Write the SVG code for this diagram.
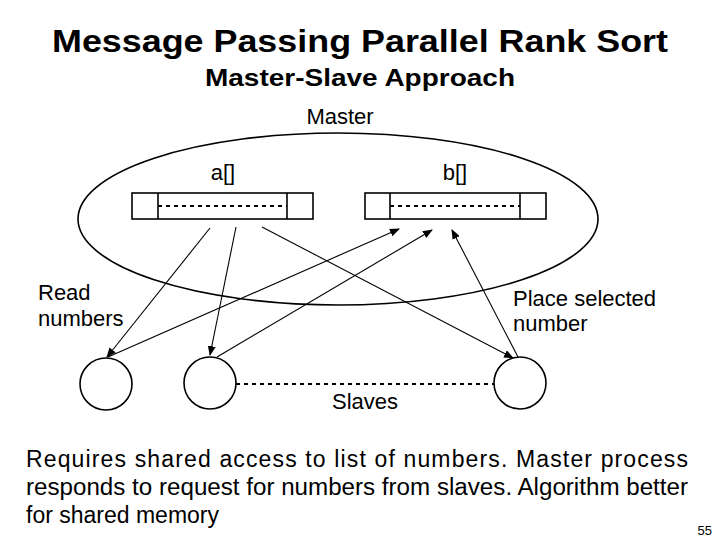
<svg xmlns="http://www.w3.org/2000/svg" width="720" height="540" viewBox="0 0 720 540">
<defs><marker id="ah" markerWidth="10" markerHeight="8" refX="9" refY="4" orient="auto" markerUnits="userSpaceOnUse"><path d="M0,0 L10,4 L0,8 z" fill="#000"/></marker></defs>
<style>
text{font-family:"Liberation Sans",Arial,sans-serif;fill:#000}
.l{font-size:22px}
.s{fill:none;stroke:#000;stroke-width:1.6}
.d{stroke:#000;stroke-width:2;stroke-dasharray:4,4}
.c{stroke:#000;stroke-width:1.1;fill:none;marker-end:url(#ah)}
.b{font-size:23px}
</style>
<rect width="720" height="540" fill="#fff"/>
<text x="360" y="52" font-size="32" font-weight="bold" text-anchor="middle" textLength="616" lengthAdjust="spacingAndGlyphs">Message Passing Parallel Rank Sort</text>
<text x="360" y="86" font-size="24" font-weight="bold" text-anchor="middle" textLength="310" lengthAdjust="spacingAndGlyphs">Master-Slave Approach</text>
<g id="master"><ellipse cx="338" cy="219" rx="260" ry="86" class="s"/><text x="340" y="124" class="l" text-anchor="middle">Master</text></g>
<g id="a"><rect x="132" y="193" width="181" height="26" class="s"/><line x1="158" y1="193" x2="158" y2="219" class="s"/><line x1="287" y1="193" x2="287" y2="219" class="s"/><line x1="158" y1="206" x2="287" y2="206" class="d"/><text x="223" y="180" class="l" text-anchor="middle">a[]</text></g>
<g id="b"><rect x="365" y="193" width="181" height="26" class="s"/><line x1="390" y1="193" x2="390" y2="219" class="s"/><line x1="520" y1="193" x2="520" y2="219" class="s"/><line x1="390" y1="206" x2="520" y2="206" class="d"/><text x="455" y="180" class="l" text-anchor="middle">b[]</text></g>
<g id="s1"><circle cx="106" cy="384" r="26" class="s"/></g>
<g id="s2"><circle cx="210" cy="383" r="26" class="s"/></g>
<g id="s3"><circle cx="520" cy="383" r="26" class="s"/></g>
<line x1="236" y1="384" x2="494" y2="384" class="d" stroke-width="1.3"/>
<text x="365" y="409" class="l" text-anchor="middle">Slaves</text>
<text x="38" y="300" class="l">Read</text><text x="38" y="326" class="l">numbers</text>
<text x="513" y="306" class="l">Place selected</text><text x="513" y="331" class="l">number</text>
<g id="connectors">
<line x1="210" y1="228" x2="107" y2="357" class="c"/>
<line x1="236" y1="227" x2="210" y2="355" class="c"/>
<line x1="262" y1="227" x2="513" y2="358" class="c"/>
<line x1="108" y1="357" x2="399" y2="229" class="c"/>
<line x1="217" y1="357" x2="432" y2="230" class="c"/>
<line x1="518" y1="357" x2="452" y2="230" class="c"/>
</g>
<text x="26" y="467" class="b" textLength="662" lengthAdjust="spacing">Requires shared access to list of numbers. Master process</text>
<text x="26" y="495" class="b" textLength="662" lengthAdjust="spacingAndGlyphs">responds to request for numbers from slaves. Algorithm better</text>
<text x="26" y="523" class="b">for shared memory</text>
<text x="712" y="535" font-size="13" text-anchor="end">55</text>
</svg>
